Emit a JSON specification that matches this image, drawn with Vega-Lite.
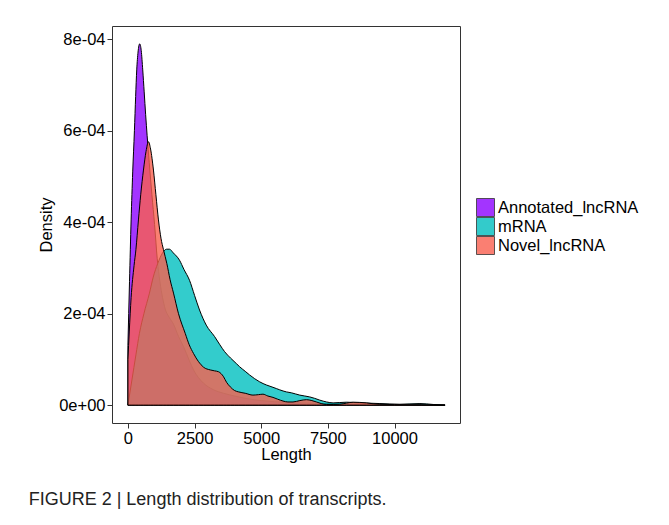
{
  "$schema": "https://vega.github.io/schema/vega-lite/v6.json",
  "width": 348,
  "height": 397,
  "autosize": {"type": "none"},
  "padding": {"left": 112, "top": 26, "right": 209, "bottom": 102},
  "background": "white",
  "title": {
    "text": "FIGURE 2 | Length distribution of transcripts.",
    "orient": "bottom",
    "anchor": "start",
    "frame": "bounds",
    "offset": 28,
    "dx": -10,
    "fontSize": 18,
    "fontWeight": "normal",
    "color": "#222"
  },
  "datasets": {
    "dens": [
      {"t": "Annotated_lncRNA", "len": 0, "d": 1.3e-4},
      {"t": "Annotated_lncRNA", "len": 60, "d": 2.7e-4},
      {"t": "Annotated_lncRNA", "len": 120, "d": 4.05e-4},
      {"t": "Annotated_lncRNA", "len": 180, "d": 5.1e-4},
      {"t": "Annotated_lncRNA", "len": 244, "d": 6.0e-4},
      {"t": "Annotated_lncRNA", "len": 290, "d": 6.75e-4},
      {"t": "Annotated_lncRNA", "len": 331, "d": 7.33e-4},
      {"t": "Annotated_lncRNA", "len": 380, "d": 7.72e-4},
      {"t": "Annotated_lncRNA", "len": 443, "d": 7.9e-4},
      {"t": "Annotated_lncRNA", "len": 500, "d": 7.75e-4},
      {"t": "Annotated_lncRNA", "len": 556, "d": 7.33e-4},
      {"t": "Annotated_lncRNA", "len": 610, "d": 6.85e-4},
      {"t": "Annotated_lncRNA", "len": 665, "d": 6.35e-4},
      {"t": "Annotated_lncRNA", "len": 720, "d": 5.9e-4},
      {"t": "Annotated_lncRNA", "len": 800, "d": 5.3e-4},
      {"t": "Annotated_lncRNA", "len": 900, "d": 4.6e-4},
      {"t": "Annotated_lncRNA", "len": 1000, "d": 3.95e-4},
      {"t": "Annotated_lncRNA", "len": 1100, "d": 3.2e-4},
      {"t": "Annotated_lncRNA", "len": 1200, "d": 2.7e-4},
      {"t": "Annotated_lncRNA", "len": 1300, "d": 2.35e-4},
      {"t": "Annotated_lncRNA", "len": 1400, "d": 2.1e-4},
      {"t": "Annotated_lncRNA", "len": 1550, "d": 1.92e-4},
      {"t": "Annotated_lncRNA", "len": 1710, "d": 1.77e-4},
      {"t": "Annotated_lncRNA", "len": 1900, "d": 1.5e-4},
      {"t": "Annotated_lncRNA", "len": 2086, "d": 1.28e-4},
      {"t": "Annotated_lncRNA", "len": 2300, "d": 0.98e-4},
      {"t": "Annotated_lncRNA", "len": 2461, "d": 0.77e-4},
      {"t": "Annotated_lncRNA", "len": 2650, "d": 0.6e-4},
      {"t": "Annotated_lncRNA", "len": 2837, "d": 0.48e-4},
      {"t": "Annotated_lncRNA", "len": 3200, "d": 0.34e-4},
      {"t": "Annotated_lncRNA", "len": 3589, "d": 0.26e-4},
      {"t": "Annotated_lncRNA", "len": 4000, "d": 0.2e-4},
      {"t": "Annotated_lncRNA", "len": 4500, "d": 0.14e-4},
      {"t": "Annotated_lncRNA", "len": 5000, "d": 0.1e-4},
      {"t": "Annotated_lncRNA", "len": 6000, "d": 0.06e-4},
      {"t": "Annotated_lncRNA", "len": 7000, "d": 0.04e-4},
      {"t": "Annotated_lncRNA", "len": 8000, "d": 0.03e-4},
      {"t": "Annotated_lncRNA", "len": 9000, "d": 0.02e-4},
      {"t": "Annotated_lncRNA", "len": 10000, "d": 0.015e-4},
      {"t": "Annotated_lncRNA", "len": 11000, "d": 0.01e-4},
      {"t": "Annotated_lncRNA", "len": 11900, "d": 0},

      {"t": "mRNA", "len": 0, "d": 0},
      {"t": "mRNA", "len": 150, "d": 0.55e-4},
      {"t": "mRNA", "len": 300, "d": 1.1e-4},
      {"t": "mRNA", "len": 432, "d": 1.57e-4},
      {"t": "mRNA", "len": 600, "d": 2.0e-4},
      {"t": "mRNA", "len": 808, "d": 2.45e-4},
      {"t": "mRNA", "len": 950, "d": 2.8e-4},
      {"t": "mRNA", "len": 1120, "d": 3.1e-4},
      {"t": "mRNA", "len": 1300, "d": 3.33e-4},
      {"t": "mRNA", "len": 1450, "d": 3.41e-4},
      {"t": "mRNA", "len": 1560, "d": 3.41e-4},
      {"t": "mRNA", "len": 1700, "d": 3.33e-4},
      {"t": "mRNA", "len": 1935, "d": 3.17e-4},
      {"t": "mRNA", "len": 2100, "d": 2.97e-4},
      {"t": "mRNA", "len": 2311, "d": 2.73e-4},
      {"t": "mRNA", "len": 2500, "d": 2.4e-4},
      {"t": "mRNA", "len": 2687, "d": 2.08e-4},
      {"t": "mRNA", "len": 2938, "d": 1.75e-4},
      {"t": "mRNA", "len": 3251, "d": 1.5e-4},
      {"t": "mRNA", "len": 3450, "d": 1.32e-4},
      {"t": "mRNA", "len": 3627, "d": 1.17e-4},
      {"t": "mRNA", "len": 3850, "d": 1.03e-4},
      {"t": "mRNA", "len": 4066, "d": 0.91e-4},
      {"t": "mRNA", "len": 4190, "d": 0.84e-4},
      {"t": "mRNA", "len": 4400, "d": 0.74e-4},
      {"t": "mRNA", "len": 4566, "d": 0.66e-4},
      {"t": "mRNA", "len": 4942, "d": 0.51e-4},
      {"t": "mRNA", "len": 5200, "d": 0.44e-4},
      {"t": "mRNA", "len": 5442, "d": 0.39e-4},
      {"t": "mRNA", "len": 5945, "d": 0.29e-4},
      {"t": "mRNA", "len": 6133, "d": 0.27e-4},
      {"t": "mRNA", "len": 6445, "d": 0.22e-4},
      {"t": "mRNA", "len": 6821, "d": 0.18e-4},
      {"t": "mRNA", "len": 7000, "d": 0.15e-4},
      {"t": "mRNA", "len": 7197, "d": 0.11e-4},
      {"t": "mRNA", "len": 7450, "d": 0.07e-4},
      {"t": "mRNA", "len": 7697, "d": 0.05e-4},
      {"t": "mRNA", "len": 8198, "d": 0.065e-4},
      {"t": "mRNA", "len": 8700, "d": 0.05e-4},
      {"t": "mRNA", "len": 9451, "d": 0.035e-4},
      {"t": "mRNA", "len": 10202, "d": 0.02e-4},
      {"t": "mRNA", "len": 10954, "d": 0.035e-4},
      {"t": "mRNA", "len": 11455, "d": 0.015e-4},
      {"t": "mRNA", "len": 11894, "d": 0},

      {"t": "Novel_lncRNA", "len": 0, "d": 1.0e-4},
      {"t": "Novel_lncRNA", "len": 50, "d": 1.6e-4},
      {"t": "Novel_lncRNA", "len": 120, "d": 2.35e-4},
      {"t": "Novel_lncRNA", "len": 230, "d": 3.05e-4},
      {"t": "Novel_lncRNA", "len": 300, "d": 3.4e-4},
      {"t": "Novel_lncRNA", "len": 395, "d": 4.05e-4},
      {"t": "Novel_lncRNA", "len": 480, "d": 4.6e-4},
      {"t": "Novel_lncRNA", "len": 583, "d": 5.14e-4},
      {"t": "Novel_lncRNA", "len": 680, "d": 5.55e-4},
      {"t": "Novel_lncRNA", "len": 770, "d": 5.76e-4},
      {"t": "Novel_lncRNA", "len": 850, "d": 5.6e-4},
      {"t": "Novel_lncRNA", "len": 958, "d": 5.14e-4},
      {"t": "Novel_lncRNA", "len": 1050, "d": 4.6e-4},
      {"t": "Novel_lncRNA", "len": 1146, "d": 4.05e-4},
      {"t": "Novel_lncRNA", "len": 1240, "d": 3.65e-4},
      {"t": "Novel_lncRNA", "len": 1334, "d": 3.4e-4},
      {"t": "Novel_lncRNA", "len": 1459, "d": 3.1e-4},
      {"t": "Novel_lncRNA", "len": 1580, "d": 2.75e-4},
      {"t": "Novel_lncRNA", "len": 1710, "d": 2.45e-4},
      {"t": "Novel_lncRNA", "len": 1898, "d": 2.0e-4},
      {"t": "Novel_lncRNA", "len": 2149, "d": 1.57e-4},
      {"t": "Novel_lncRNA", "len": 2300, "d": 1.32e-4},
      {"t": "Novel_lncRNA", "len": 2461, "d": 1.13e-4},
      {"t": "Novel_lncRNA", "len": 2650, "d": 0.95e-4},
      {"t": "Novel_lncRNA", "len": 2837, "d": 0.83e-4},
      {"t": "Novel_lncRNA", "len": 3090, "d": 0.77e-4},
      {"t": "Novel_lncRNA", "len": 3250, "d": 0.75e-4},
      {"t": "Novel_lncRNA", "len": 3401, "d": 0.73e-4},
      {"t": "Novel_lncRNA", "len": 3589, "d": 0.62e-4},
      {"t": "Novel_lncRNA", "len": 3700, "d": 0.5e-4},
      {"t": "Novel_lncRNA", "len": 3840, "d": 0.4e-4},
      {"t": "Novel_lncRNA", "len": 4000, "d": 0.32e-4},
      {"t": "Novel_lncRNA", "len": 4152, "d": 0.29e-4},
      {"t": "Novel_lncRNA", "len": 4400, "d": 0.26e-4},
      {"t": "Novel_lncRNA", "len": 4690, "d": 0.22e-4},
      {"t": "Novel_lncRNA", "len": 4900, "d": 0.23e-4},
      {"t": "Novel_lncRNA", "len": 5066, "d": 0.24e-4},
      {"t": "Novel_lncRNA", "len": 5250, "d": 0.2e-4},
      {"t": "Novel_lncRNA", "len": 5442, "d": 0.17e-4},
      {"t": "Novel_lncRNA", "len": 5620, "d": 0.13e-4},
      {"t": "Novel_lncRNA", "len": 5818, "d": 0.09e-4},
      {"t": "Novel_lncRNA", "len": 6000, "d": 0.07e-4},
      {"t": "Novel_lncRNA", "len": 6193, "d": 0.07e-4},
      {"t": "Novel_lncRNA", "len": 6450, "d": 0.1e-4},
      {"t": "Novel_lncRNA", "len": 6695, "d": 0.12e-4},
      {"t": "Novel_lncRNA", "len": 6900, "d": 0.1e-4},
      {"t": "Novel_lncRNA", "len": 7072, "d": 0.07e-4},
      {"t": "Novel_lncRNA", "len": 7250, "d": 0.035e-4},
      {"t": "Novel_lncRNA", "len": 7447, "d": 0.015e-4},
      {"t": "Novel_lncRNA", "len": 7700, "d": 0.015e-4},
      {"t": "Novel_lncRNA", "len": 7948, "d": 0.02e-4},
      {"t": "Novel_lncRNA", "len": 8200, "d": 0.045e-4},
      {"t": "Novel_lncRNA", "len": 8448, "d": 0.065e-4},
      {"t": "Novel_lncRNA", "len": 8700, "d": 0.06e-4},
      {"t": "Novel_lncRNA", "len": 8951, "d": 0.05e-4},
      {"t": "Novel_lncRNA", "len": 9200, "d": 0.03e-4},
      {"t": "Novel_lncRNA", "len": 9451, "d": 0.02e-4},
      {"t": "Novel_lncRNA", "len": 10000, "d": 0.012e-4},
      {"t": "Novel_lncRNA", "len": 11000, "d": 0.008e-4},
      {"t": "Novel_lncRNA", "len": 11894, "d": 0}
    ]
  },
  "data": {"name": "dens"},
  "encoding": {
    "x": {
      "field": "len",
      "type": "quantitative",
      "title": "Length",
      "scale": {"domain": [-597, 12457], "nice": false, "zero": false},
      "axis": {"values": [0, 2500, 5000, 7500, 10000], "format": "d", "titlePadding": 0, "labelPadding": 2}
    },
    "y": {
      "field": "d",
      "type": "quantitative",
      "title": "Density",
      "stack": null,
      "scale": {"domain": [-0.39e-4, 8.29e-4], "nice": false, "zero": false},
      "axis": {
        "values": [0, 0.0002, 0.0004, 0.0006, 0.0008],
        "labelExpr": "datum.value == 0 ? '0e+00' : replace(format(datum.value, '.0e'), 'e-', 'e-0')",
        "titlePadding": 4,
        "labelPadding": 2
      }
    },
    "fill": {
      "field": "t",
      "type": "nominal",
      "scale": {
        "domain": ["Annotated_lncRNA", "mRNA", "Novel_lncRNA"],
        "range": ["#8C02FF", "#00BFBF", "#F9604F"]
      },
      "legend": {
        "title": null,
        "orient": "none",
        "legendX": 364,
        "legendY": 172,
        "symbolType": "square",
        "symbolSize": 324,
        "symbolStrokeColor": "black",
        "symbolStrokeWidth": 0.8,
        "symbolOpacity": 0.8,
        "labelFontSize": 16.5,
        "labelColor": "#000",
        "labelOffset": 3,
        "rowPadding": 0,
        "clipHeight": 19
      }
    }
  },
  "layer": [
    {
      "transform": [{"filter": "datum.t == 'Annotated_lncRNA'"}],
      "mark": {"type": "area", "interpolate": "monotone", "fillOpacity": 0.8, "stroke": "black", "strokeWidth": 1}
    },
    {
      "transform": [{"filter": "datum.t == 'mRNA'"}],
      "mark": {"type": "area", "interpolate": "monotone", "fillOpacity": 0.8, "stroke": "black", "strokeWidth": 1}
    },
    {
      "transform": [{"filter": "datum.t == 'Novel_lncRNA'"}],
      "mark": {"type": "area", "interpolate": "monotone", "fillOpacity": 0.8, "stroke": "black", "strokeWidth": 1}
    }
  ],
  "config": {
    "font": "Liberation Sans",
    "view": {"stroke": "#333", "strokeWidth": 1},
    "axis": {
      "grid": false,
      "domain": false,
      "tickColor": "#333",
      "tickSize": 5,
      "labelFontSize": 16.5,
      "titleFontSize": 16.5,
      "labelColor": "#000",
      "titleColor": "#000",
      "titleFontWeight": "normal"
    }
  }
}
